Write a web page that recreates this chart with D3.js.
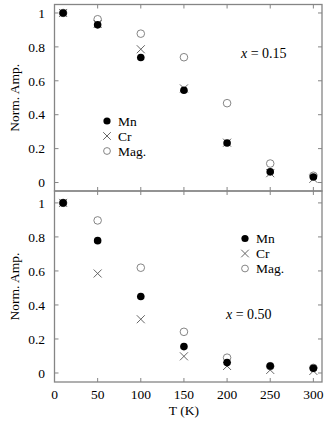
<!DOCTYPE html>
<html>
<head>
<meta charset="utf-8">
<script src="https://cdn.jsdelivr.net/npm/d3@7"></script>
<style>
  body { margin: 0; background: #fff; }
  svg { display: block; font-family: "Liberation Serif", "Times New Roman", serif; }
</style>
</head>
<body>
<svg id="chart" width="328" height="421"></svg>
<script>
// temperatures (K)
var temps = [10, 50, 100, 150, 200, 250, 300];

// x = 0.15 panel
var mnTop  = [1.0, 0.93, 0.737, 0.544, 0.233, 0.063, 0.033];
var crTop  = [1.0, 0.935, 0.786, 0.555, 0.235, 0.055, 0.022];
var magTop = [1.0, 0.963, 0.878, 0.739, 0.468, 0.112, 0.04];

// x = 0.50 panel
var mnBot  = [1.0, 0.778, 0.45, 0.155, 0.061, 0.041, 0.028];
var crBot  = [1.0, 0.585, 0.316, 0.098, 0.041, 0.018, 0.012];
var magBot = [1.0, 0.897, 0.619, 0.242, 0.09, 0.04, 0.03];

var xTicks = [0, 50, 100, 150, 200, 250, 300];
var yTicks = [0, 0.2, 0.4, 0.6, 0.8, 1];
var legendNames = ["Mn", "Cr", "Mag."];

var svg = d3.select("#chart");
var frameColor = "#858585";
var tickLen = 4;

var x = d3.scaleLinear().domain([0, 310]).range([54.5, 322]);

function crossPath(cx, cy, s) {
	return "M" + (cx - s) + "," + (cy - s) + "L" + (cx + s) + "," + (cy + s) +
		"M" + (cx - s) + "," + (cy + s) + "L" + (cx + s) + "," + (cy - s);
}

function drawPanel(y, series, label, labelPos, legendPos, showXLabels) {
	var g = svg.append("g");
	var x0 = x.range()[0], x1 = x.range()[1];
	var y0 = y.range()[0], y1 = y.range()[1];

	// frame
	g.append("rect")
		.attr("x", x0).attr("y", y1)
		.attr("width", x1 - x0).attr("height", y0 - y1)
		.attr("fill", "none")
		.attr("stroke", frameColor)
		.attr("stroke-width", 1.3);

	// y ticks (left & right, inward)
	yTicks.forEach(function(t) {
		g.append("line").attr("x1", x0).attr("x2", x0 + tickLen)
			.attr("y1", y(t)).attr("y2", y(t)).attr("stroke", frameColor);
		g.append("line").attr("x1", x1).attr("x2", x1 - tickLen)
			.attr("y1", y(t)).attr("y2", y(t)).attr("stroke", frameColor);
		g.append("text")
			.attr("x", x0 - 9.5).attr("y", y(t))
			.attr("dy", "0.35em")
			.attr("text-anchor", "end")
			.attr("font-size", 13.5)
			.text(d3.format("~g")(t));
	});

	// x ticks (top & bottom, inward)
	xTicks.forEach(function(t) {
		if (t == 0) return;
		g.append("line").attr("x1", x(t)).attr("x2", x(t))
			.attr("y1", y1).attr("y2", y1 + tickLen).attr("stroke", frameColor);
		g.append("line").attr("x1", x(t)).attr("x2", x(t))
			.attr("y1", y0).attr("y2", y0 - tickLen).attr("stroke", frameColor);
	});
	if (showXLabels) {
		xTicks.forEach(function(t) {
			g.append("text")
				.attr("x", x(t)).attr("y", y0 + 17)
				.attr("text-anchor", "middle")
				.attr("font-size", 13.5)
				.text(t);
		});
	}

	// y label
	g.append("text")
		.attr("transform", "translate(19," + ((y0 + y1) / 2) + ") rotate(-90)")
		.attr("text-anchor", "middle")
		.attr("font-size", 13.5)
		.text("Norm. Amp.");

	// markers: mag (open), cr (cross), mn (filled)
	var mag = series[2], cr = series[1], mn = series[0];
	g.selectAll(".mag").data(temps).enter().append("circle")
		.attr("cx", d => x(d)).attr("cy", (d, i) => y(mag[i]))
		.attr("r", 3.8).attr("fill", "none")
		.attr("stroke", "#777").attr("stroke-width", 0.9);
	g.selectAll(".cr").data(temps).enter().append("path")
		.attr("d", (d, i) => crossPath(x(d), y(cr[i]), 4))
		.attr("stroke", "#555").attr("stroke-width", 0.9).attr("fill", "none");
	g.selectAll(".mn").data(temps).enter().append("circle")
		.attr("cx", d => x(d)).attr("cy", (d, i) => y(mn[i]))
		.attr("r", 3.8).attr("fill", "#000");

	// legend
	legendNames.forEach(function(name, i) {
		var lx = legendPos[0], ly = legendPos[1] + i * 15;
		if (i == 0) {
			g.append("circle").attr("cx", lx).attr("cy", ly).attr("r", 3.6).attr("fill", "#000");
		} else if (i == 1) {
			g.append("path")
				.attr("d", crossPath(lx, ly, 3.8))
				.attr("stroke", "#555").attr("stroke-width", 0.9);
		} else {
			g.append("circle").attr("cx", lx).attr("cy", ly).attr("r", 3.4)
				.attr("fill", "none").attr("stroke", "#777").attr("stroke-width", 0.9);
		}
		g.append("text")
			.attr("x", lx + 11).attr("y", ly).attr("dy", "0.35em")
			.attr("font-size", 13.5)
			.text(name);
	});

	// panel label
	var t = g.append("text")
		.attr("x", labelPos[0]).attr("y", labelPos[1])
		.attr("font-size", 14);
	t.append("tspan").attr("font-style", "italic").text("x");
	t.append("tspan").text(" = " + label);
}

var yTop = d3.scaleLinear().domain([-0.05, 1.05]).range([191, 4.5]);
var yBot = d3.scaleLinear().domain([-0.053, 1.07]).range([382, 191]);

drawPanel(yTop, [mnTop, crTop, magTop], "0.15", [241, 58], [107, 121], false);
drawPanel(yBot, [mnBot, crBot, magBot], "0.50", [226, 319], [245, 238.5], true);

svg.append("text")
	.attr("x", x(150)).attr("y", 415)
	.attr("text-anchor", "middle")
	.attr("font-size", 13.5)
	.text("T (K)");
</script>
</body>
</html>
